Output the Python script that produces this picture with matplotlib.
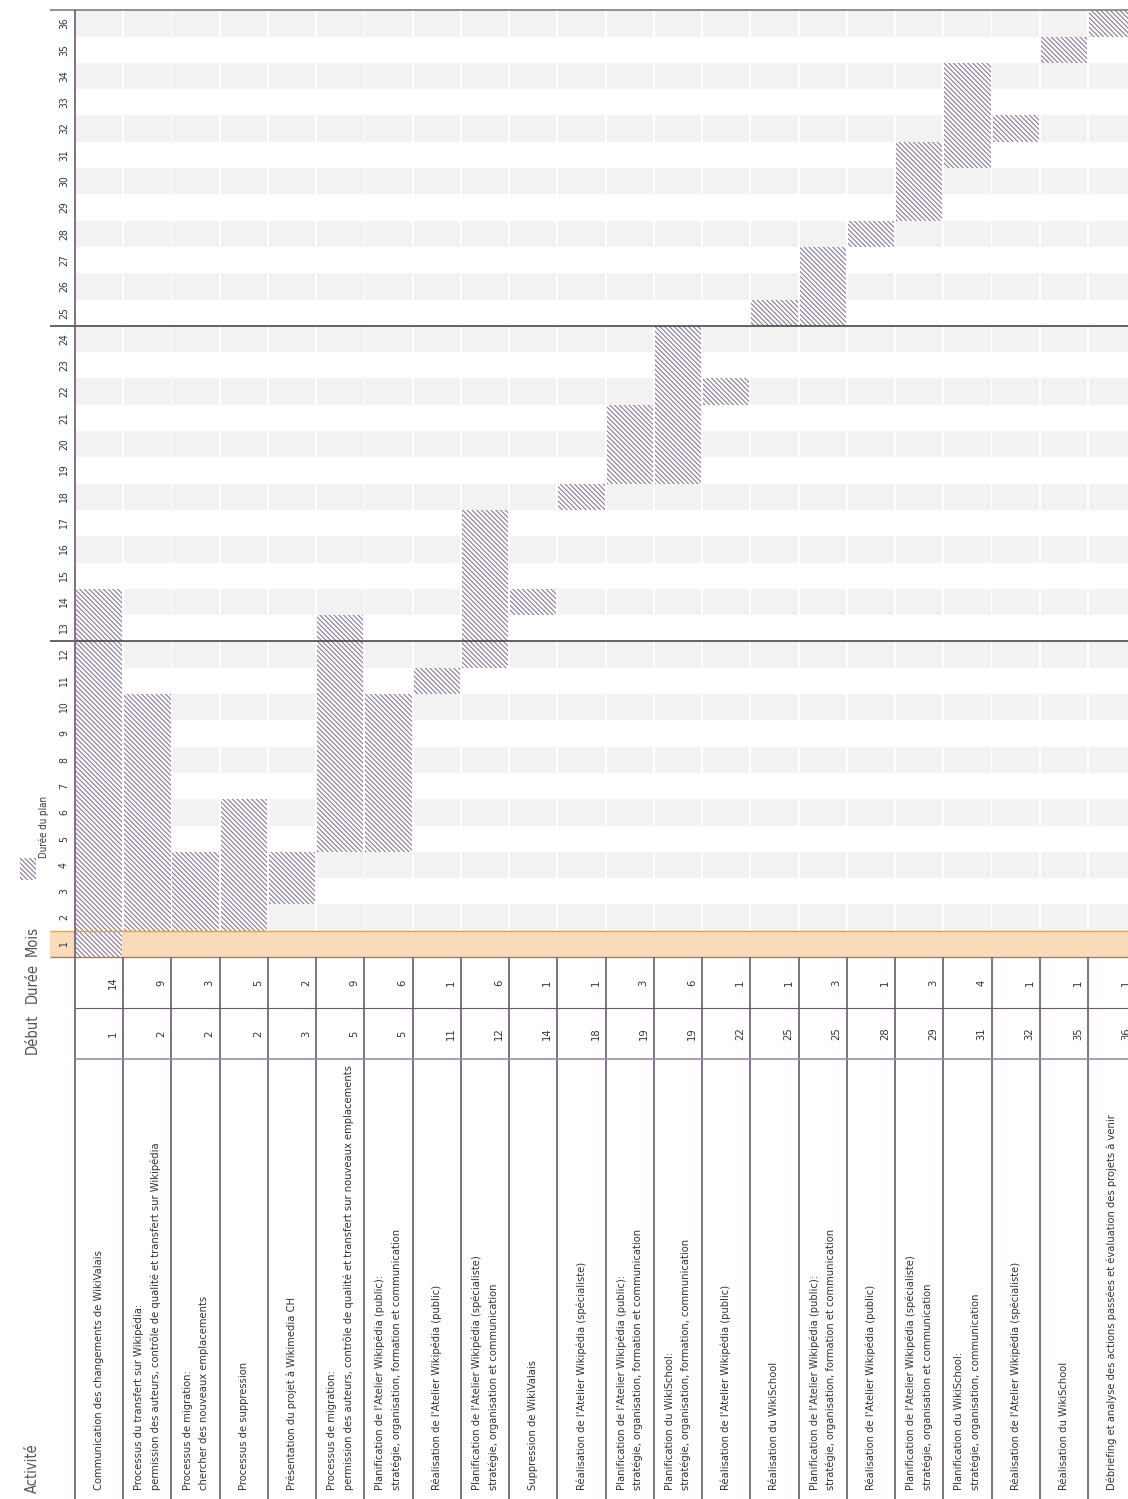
import matplotlib
matplotlib.use("Agg")
import matplotlib.pyplot as plt
from matplotlib.patches import Rectangle
import numpy as np

# ---------------- data ----------------
activities = [
    "Communication des changements de WikiValais",
    "Processus du transfert sur Wikipédia:\npermission des auteurs, contrôle de qualité et transfert sur Wikipédia",
    "Processus de migration:\nchercher des nouveaux emplacements",
    "Processus de suppression",
    "Présentation du projet à Wikimedia CH",
    "Processus de migration:\npermission des auteurs, contrôle de qualité et transfert sur nouveaux emplacements",
    "Planification de l'Atelier Wikipédia (public):\nstratégie, organisation, formation et communication",
    "Réalisation de l'Atelier Wikipédia (public)",
    "Planification de l'Atelier Wikipédia (spécialiste)\nstratégie, organisation et communication",
    "Suppression de WikiValais",
    "Réalisation de l'Atelier Wikipédia (spécialiste)",
    "Planification de l'Atelier Wikipédia (public):\nstratégie, organisation, formation et communication",
    "Planification du WikiSchool:\nstratégie, organisation, formation, communication",
    "Réalisation de l'Atelier Wikipédia (public)",
    "Réalisation du WikiSchool",
    "Planification de l'Atelier Wikipédia (public):\nstratégie, organisation, formation et communication",
    "Réalisation de l'Atelier Wikipédia (public)",
    "Planification de l'Atelier Wikipédia (spécialiste)\nstratégie, organisation et communication",
    "Planification du WikiSchool:\nstratégie, organisation, communication",
    "Réalisation de l'Atelier Wikipédia (spécialiste)",
    "Réalisation du WikiSchool",
    "Débriefing et analyse des actions passées et évaluation des projets à venir",
]
starts = [1, 2, 2, 2, 3, 5, 5, 11, 12, 14, 18, 19, 19, 22, 25, 25, 28, 29, 31, 32, 35, 36]
durations = [14, 9, 3, 5, 2, 9, 6, 1, 6, 1, 1, 3, 6, 1, 1, 3, 1, 3, 4, 1, 1, 1]
months = list(range(1, 37))
current_month = 1
year_breaks = [12, 24]

header_activity = "Activité"
header_start = "Début"
header_duration = "Durée"
header_month = "Mois"
legend_label = "Durée du plan"

# ---------------- style ----------------
plt.rcParams["font.family"] = ["DejaVu Sans"]
plt.rcParams["font.stretch"] = "condensed"
HATCH_COLOR = "#8a7696"
plt.rcParams["hatch.linewidth"] = 0.8
PURPLE = "#6f5673"
GRAY_CELL = "#f2f2f2"
BAND = "#f8dcb9"
BAND_EDGE = "#d9a55c"
TEXT = "#333333"
HDR = "#555555"
HATCH = "\\" * 7

W, H = 1128, 1499
fig = plt.figure(figsize=(W / 100, H / 100), dpi=100)
ax = fig.add_axes([0, 0, 1, 1])
ax.set_axis_off()

x0_px, colw_px = 75.0, 48.24
y0_px, rowh_px = 957.0, 26.3
ax.set_xlim(-x0_px / colw_px, (W - x0_px) / colw_px)
ax.set_ylim(-(H - y0_px) / rowh_px, y0_px / rowh_px)

n = len(activities)
cols = np.arange(n)
left_edge = -25.5 / colw_px
right_edge = (W - x0_px) / colw_px + 0.5
ybot = -(H - y0_px) / rowh_px
row_dur = (0, -51.0 / rowh_px)
row_start = (-51.0 / rowh_px, -102.0 / rowh_px)

# gray cells on even months
for m in months:
    if m % 2 == 0:
        ax.bar(cols + 0.5, 1, bottom=m - 1, width=0.962, color=GRAY_CELL,
               linewidth=0, zorder=1)

# current-month band
ax.add_patch(Rectangle((left_edge, current_month - 1), right_edge - left_edge, 1,
                       facecolor=BAND, edgecolor="none", zorder=1.5))
ax.hlines([current_month], left_edge, right_edge, color=BAND_EDGE, lw=1.0, zorder=4)
ax.hlines([current_month - 1], left_edge, right_edge, color="#a87a60", lw=1.0, zorder=4)

# plan bars (hatched)
ax.bar(cols + 0.5, durations, bottom=np.array(starts) - 1, width=0.96,
       facecolor="white", edgecolor=HATCH_COLOR, linewidth=0,
       hatch=HATCH, zorder=3)

# year separators and top line
ax.hlines(year_breaks, left_edge, right_edge, color="#3a3a3a", lw=1.1, zorder=5)
ax.hlines([months[-1]], left_edge, right_edge, color="#808080", lw=1.2, zorder=5)

# purple lines
ax.vlines([0], ybot, months[-1], color=PURPLE, lw=1.2, zorder=6)
ax.vlines(cols[1:], ybot, 0, color=PURPLE, lw=1.2, zorder=6)
ax.hlines([row_dur[1]], 0, right_edge, color=PURPLE, lw=0.8, zorder=6)
ax.hlines([row_start[1]], 0, right_edge, color="#a08ca5", lw=1.2, zorder=6)

# month labels
for m in months:
    ax.text(-11 / colw_px, m - 0.5, str(m), rotation=90, ha="center", va="center",
            fontsize=7.5, color=TEXT, zorder=7)

# table numbers
ymid_dur = sum(row_dur) / 2
ymid_start = sum(row_start) / 2
for i in range(n):
    ax.text(i + 0.79, ymid_dur, str(durations[i]), rotation=90, ha="center",
            va="center", fontsize=8, color=TEXT, zorder=7)
    ax.text(i + 0.79, ymid_start, str(starts[i]), rotation=90, ha="center",
            va="center", fontsize=8, color=TEXT, zorder=7)

# activity labels
ytext = -(1490 - y0_px) / rowh_px
for i, lab in enumerate(activities):
    ax.text(i + 0.5, ytext, lab, rotation=90, rotation_mode="anchor",
            ha="left", va="center", fontsize=8, color=TEXT, linespacing=1.75,
            zorder=7)

# headers
xh = (32 - x0_px) / colw_px
ax.text(xh, -(1493 - y0_px) / rowh_px, header_activity, rotation=90,
        rotation_mode="anchor", ha="left", va="center", fontsize=10.5, color=HDR)
ax.text(xh, ymid_start, header_start, rotation=90, ha="center", va="center",
        fontsize=10.5, color=HDR)
ax.text(xh, ymid_dur, header_duration, rotation=90, ha="center", va="center",
        fontsize=10.5, color=HDR)
ax.text(xh, 0.62, header_month, rotation=90, ha="center", va="center",
        fontsize=10.5, color=HDR)

# legend (hatched swatch + label)
lx = (20 - x0_px) / colw_px
ax.bar([lx + 8 / colw_px], [22 / rowh_px], bottom=(957 - 880) / rowh_px,
       width=16 / colw_px, facecolor="white", edgecolor=HATCH_COLOR,
       linewidth=0, hatch=HATCH, zorder=3)
ax.text((44 - x0_px) / colw_px, (957 - 858) / rowh_px, legend_label, rotation=90,
        rotation_mode="anchor", ha="left", va="center", fontsize=7, color=TEXT)

fig.savefig("out.png", dpi=100)
